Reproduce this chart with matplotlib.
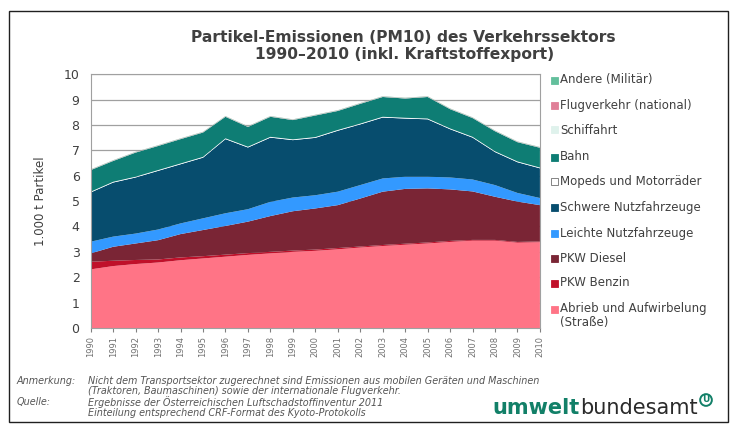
import matplotlib.pyplot as plt
import matplotlib.patches as mpatches
import numpy as np

# Data (1.000 t PM10 per category)
years = list(range(1990, 2011))
abrieb = [2.31, 2.44, 2.52, 2.58, 2.67, 2.74, 2.81, 2.88, 2.94, 3.00, 3.04,
          3.10, 3.17, 3.23, 3.28, 3.33, 3.39, 3.44, 3.44, 3.36, 3.38]
pkw_benzin = [0.30, 0.21, 0.16, 0.12, 0.11, 0.09, 0.08, 0.07, 0.06, 0.05, 0.05,
              0.05, 0.04, 0.04, 0.04, 0.04, 0.04, 0.03, 0.03, 0.03, 0.03]
pkw_diesel = [0.33, 0.55, 0.65, 0.76, 0.92, 1.03, 1.13, 1.24, 1.41, 1.55, 1.62,
              1.69, 1.89, 2.10, 2.16, 2.13, 2.03, 1.91, 1.70, 1.59, 1.43]
leichte_nfz = [0.46, 0.40, 0.39, 0.42, 0.42, 0.46, 0.50, 0.49, 0.56, 0.54, 0.52,
               0.53, 0.53, 0.52, 0.48, 0.46, 0.47, 0.47, 0.46, 0.34, 0.28]
schwere_nfz = [1.94, 2.13, 2.21, 2.31, 2.33, 2.39, 2.92, 2.43, 2.53, 2.26, 2.26,
               2.40, 2.39, 2.40, 2.29, 2.26, 1.90, 1.65, 1.30, 1.21, 1.17]
mopeds = [0.03] * 21
bahn = [0.85, 0.82, 0.95, 0.95, 0.96, 0.96, 0.85, 0.78, 0.79, 0.76, 0.85,
        0.75, 0.78, 0.78, 0.76, 0.85, 0.76, 0.74, 0.79, 0.76, 0.78]
schiffahrt = [0.01] * 21
flugverkehr = [0.01] * 21
andere = [0.01] * 21

labels = ['Abrieb und Aufwirbelung\n(Straße)', 'PKW Benzin', 'PKW Diesel',
          'Leichte Nutzfahrzeuge', 'Schwere Nutzfahrzeuge', 'Mopeds und Motorräder',
          'Bahn', 'Schiffahrt', 'Flugverkehr (national)', 'Andere (Militär)']
colors = ['#ff7486', '#c0102a', '#7a2535', '#3399ff', '#074d6e', '#ffffff',
          '#0e7d74', '#dff2ec', '#e08098', '#63bf9c']
series = [abrieb, pkw_benzin, pkw_diesel, leichte_nfz, schwere_nfz, mopeds,
          bahn, schiffahrt, flugverkehr, andere]

txt = '#404040'
fig = plt.figure(figsize=(7.34, 4.26), dpi=100)
ax = fig.add_axes([0.1236, 0.230, 0.612, 0.596])

ax.stackplot(years, *series, colors=colors, linewidth=0, zorder=2)

ax.set_xlim(1990, 2010)
ax.set_ylim(0, 10)
ax.set_yticks(range(0, 11))
ax.set_xticks(years)
ax.set_xticklabels([str(y) for y in years], rotation=90, fontsize=6, color='#707070')
ax.tick_params(axis='y', labelsize=9, colors=txt, length=0, pad=8)
ax.tick_params(axis='x', length=3, color='#808080', pad=3)
ax.grid(axis='y', color='#a0a0a0', linewidth=0.9, zorder=1)
for s in ax.spines.values():
    s.set_color('#a0a0a0')
ax.set_ylabel('1.000 t Partikel', fontsize=8.5, color=txt, labelpad=12)

fig.text(0.549, 1 - 37 / 426, 'Partikel-Emissionen (PM10) des Verkehrssektors',
         ha='center', va='center', fontsize=11.2, fontweight='bold', color=txt)
fig.text(0.551, 1 - 54 / 426, '1990\u20132010 (inkl. Kraftstoffexport)',
         ha='center', va='center', fontsize=11.2, fontweight='bold', color=txt)

# legend drawn by hand, top entry first
leg_y = [80, 105, 130, 157, 182, 208, 233, 258, 283, 309]
for i, lab in enumerate(labels[::-1]):
    yy = 1 - leg_y[i] / 426
    col = colors[::-1][i]
    fig.patches.append(mpatches.Rectangle((551 / 734, yy - 3.5 / 426), 7 / 734, 7 / 426,
                                          transform=fig.transFigure, facecolor=col,
                                          edgecolor='#707070' if col == '#ffffff' else col,
                                          linewidth=0.6))
    if '\n' in lab:
        fig.text(560 / 734, 1 - 302 / 426, lab, fontsize=8.5, color=txt, va='top',
                 linespacing=1.1)
    else:
        fig.text(560 / 734, yy, lab, fontsize=8.5, color=txt, va='center')

# notes
note = dict(fontsize=6.9, style='italic', color='#555555', va='center')
fig.text(17 / 734, 1 - 381 / 426, 'Anmerkung:', **note)
fig.text(88 / 734, 1 - 381 / 426, 'Nicht dem Transportsektor zugerechnet sind Emissionen aus mobilen Geräten und Maschinen', **note)
fig.text(88 / 734, 1 - 391.5 / 426, '(Traktoren, Baumaschinen) sowie der internationale Flugverkehr.', **note)
fig.text(17 / 734, 1 - 402 / 426, 'Quelle:', **note)
fig.text(88 / 734, 1 - 402 / 426, 'Ergebnisse der Österreichischen Luftschadstoffinventur 2011', **note)
fig.text(88 / 734, 1 - 412.5 / 426, 'Einteilung entsprechend CRF-Format des Kyoto-Protokolls', **note)

# logo
fig.text(580 / 734, 1 - 414 / 426, 'umwelt', fontsize=15, fontweight='bold', color='#128068',
         ha='right', va='baseline')
fig.text(580 / 734, 1 - 414 / 426, 'bundesamt', fontsize=15, color='#2a2a2a',
         ha='left', va='baseline')
fig.text(706 / 734, 1 - 400 / 426, 'U', fontsize=6.5, fontweight='bold', color='#128068',
         ha='center', va='center',
         bbox=dict(boxstyle='circle,pad=0.15', fc='none', ec='#128068', lw=1.4))

# outer frame
fig.patches.append(mpatches.Rectangle((9 / 734, 4 / 426), 719 / 734, 411 / 426,
                                      transform=fig.transFigure, fill=False,
                                      edgecolor='#202020', linewidth=1.0))

fig.savefig('out.png', dpi=100)
